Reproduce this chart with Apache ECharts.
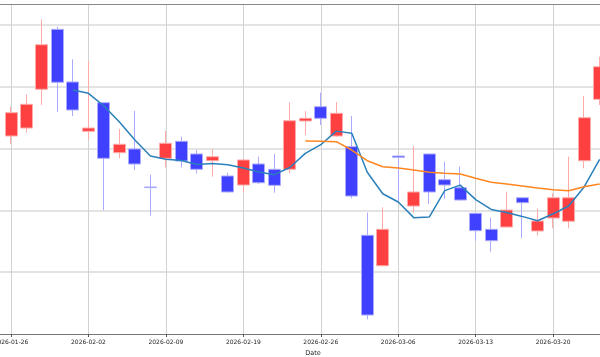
<!DOCTYPE html>
<html>
<head>
<meta charset="utf-8">
<script src="https://cdn.jsdelivr.net/npm/echarts@6/dist/echarts.min.js"></script>
<style>html,body{margin:0;padding:0;background:#fff;}#c{width:600px;height:357px;}</style>
</head>
<body>
<div id="c"></div>
<script>
const dates = ['2026-01-26','2026-01-27','2026-01-28','2026-01-29','2026-01-30',
  '2026-02-02','2026-02-03','2026-02-04','2026-02-05','2026-02-06',
  '2026-02-09','2026-02-10','2026-02-11','2026-02-12','2026-02-13',
  '2026-02-19','2026-02-20','2026-02-23','2026-02-24','2026-02-25',
  '2026-02-26','2026-02-27','2026-03-02','2026-03-03','2026-03-04',
  '2026-03-06','2026-03-09','2026-03-10','2026-03-11','2026-03-12',
  '2026-03-13','2026-03-16','2026-03-17','2026-03-18','2026-03-19',
  '2026-03-20','2026-03-23','2026-03-24','2026-03-25'];
const opens  = [122.04,123.33,129.60,139.30,130.78,122.80,127.43,119.34,119.94,113.79,
  118.43,121.18,119.13,118.04,115.57,114.11,117.51,116.65,116.65,124.47,
  126.78,122.04,120.31,105.97,101.05,118.80,110.71,119.13,114.97,113.67,
  109.53,106.94,107.31,112.05,106.67,108.77,108.24,118.04,127.98];
const closes = [125.81,127.17,136.81,130.73,126.25,123.33,118.43,120.70,117.51,113.69,
  120.86,117.99,116.65,118.69,112.98,118.16,114.48,114.06,124.51,124.90,
  124.90,125.71,112.33,93.07,106.94,118.59,112.98,112.98,114.11,111.68,
  106.72,105.10,110.06,111.25,108.28,112.05,112.05,125.00,133.25];
const lows   = [120.74,122.57,127.06,125.97,125.27,121.50,110.06,118.43,116.54,109.14,
  116.97,116.97,116.00,115.45,112.90,112.98,114.27,112.86,116.00,122.20,
  123.82,121.93,111.96,92.38,100.90,111.36,109.63,111.04,111.84,111.60,
  105.10,103.32,107.25,105.49,105.97,107.10,107.10,116.81,127.06];
const highs  = [126.78,128.79,140.92,139.72,134.45,134.17,127.43,123.17,126.08,115.78,
  122.85,121.93,119.77,119.89,116.10,118.32,118.69,119.13,127.49,126.08,
  129.05,127.54,125.27,109.63,110.50,118.85,120.42,119.20,117.88,117.07,
  109.63,108.82,113.03,112.10,110.28,112.77,118.69,128.51,134.87];
const ma5 = [null,null,null,null,129.48,128.95,126.89,124.30,121.39,118.80,
  118.27,118.07,117.43,117.60,117.38,116.86,116.23,115.78,116.94,119.22,
  120.63,122.83,122.48,116.18,112.69,111.36,108.83,108.93,113.20,114.09,
  111.75,110.15,109.66,109.03,108.32,109.45,110.71,113.79,118.27];
const ma20 = [null,null,null,null,null,null,null,null,null,null,
  null,null,null,null,null,null,null,null,null,121.23,
  121.18,121.12,119.77,118.04,117.07,116.86,116.54,116.17,116.00,115.89,
  115.19,114.55,114.27,113.95,113.62,113.35,113.19,113.83,114.27];

const LEFT_PAD = 5, RIGHT_PAD = 6;
const padL = new Array(LEFT_PAD).fill(''), padR = new Array(RIGHT_PAD).fill('');
const axisData = padL.concat(dates, padR);
const blankL = new Array(LEFT_PAD).fill('-'), blankR = new Array(RIGHT_PAD).fill('-');
const ohlc = dates.map((d, i) => [opens[i], closes[i], lows[i], highs[i]]);
const toLine = a => blankL.concat(a.map(v => v == null ? '-' : v), blankR);

const chart = echarts.init(document.getElementById('c'), null, {renderer: 'canvas'});
const font = 'DejaVu Sans';
chart.setOption({
  animation: false,
  backgroundColor: '#ffffff',
  grid: {left: -66.45, right: -92.56, top: 4, bottom: 23, containLabel: false, outerBoundsMode: 'none'},
  xAxis: [{
    type: 'category', data: axisData, boundaryGap: false,
    name: 'Date', nameLocation: 'middle', nameGap: 15,
    nameTextStyle: {fontFamily: font, fontSize: 6.5, color: '#222'},
    axisLine: {show: true, lineStyle: {color: '#777', width: 1}},
    axisTick: {show: true, interval: 4, length: 3, lineStyle: {color: '#555'}},
    axisLabel: {show: true, interval: 4, margin: 5, fontFamily: font, fontSize: 6, color: '#222'},
    splitLine: {show: true, interval: 4, lineStyle: {color: '#d2d2d2', width: 1}}
  }, {
    type: 'category', data: axisData, boundaryGap: false, position: 'top',
    axisLine: {show: true, lineStyle: {color: '#888', width: 1}},
    axisTick: {show: false}, axisLabel: {show: false}, splitLine: {show: false}
  }],
  yAxis: {
    type: 'value', min: 90, max: 143.4, interval: 10, scale: true,
    axisLine: {show: false}, axisTick: {show: false}, axisLabel: {show: false},
    splitLine: {show: true, showMinLine: false, showMaxLine: false, lineStyle: {color: '#e3e3e3', width: 2}}
  },
  series: [{
    type: 'candlestick',
    data: blankL.concat(ohlc, blankR),
    barWidth: 12.5,
    itemStyle: {
      color: '#ff4040', color0: '#4040ff',
      borderColor: '#ffaaaa', borderColor0: '#aaaaff', borderColorDoji: '#aaaaff',
      borderWidth: 1
    },
    z: 2
  }, {
    type: 'line', data: toLine(ma5), symbol: 'none', showSymbol: false,
    lineStyle: {color: '#2a80bb', width: 1.5}, z: 3
  }, {
    type: 'line', data: toLine(ma20), symbol: 'none', showSymbol: false,
    lineStyle: {color: '#ff8620', width: 1.5}, z: 3
  }]
});
</script>
</body>
</html>
